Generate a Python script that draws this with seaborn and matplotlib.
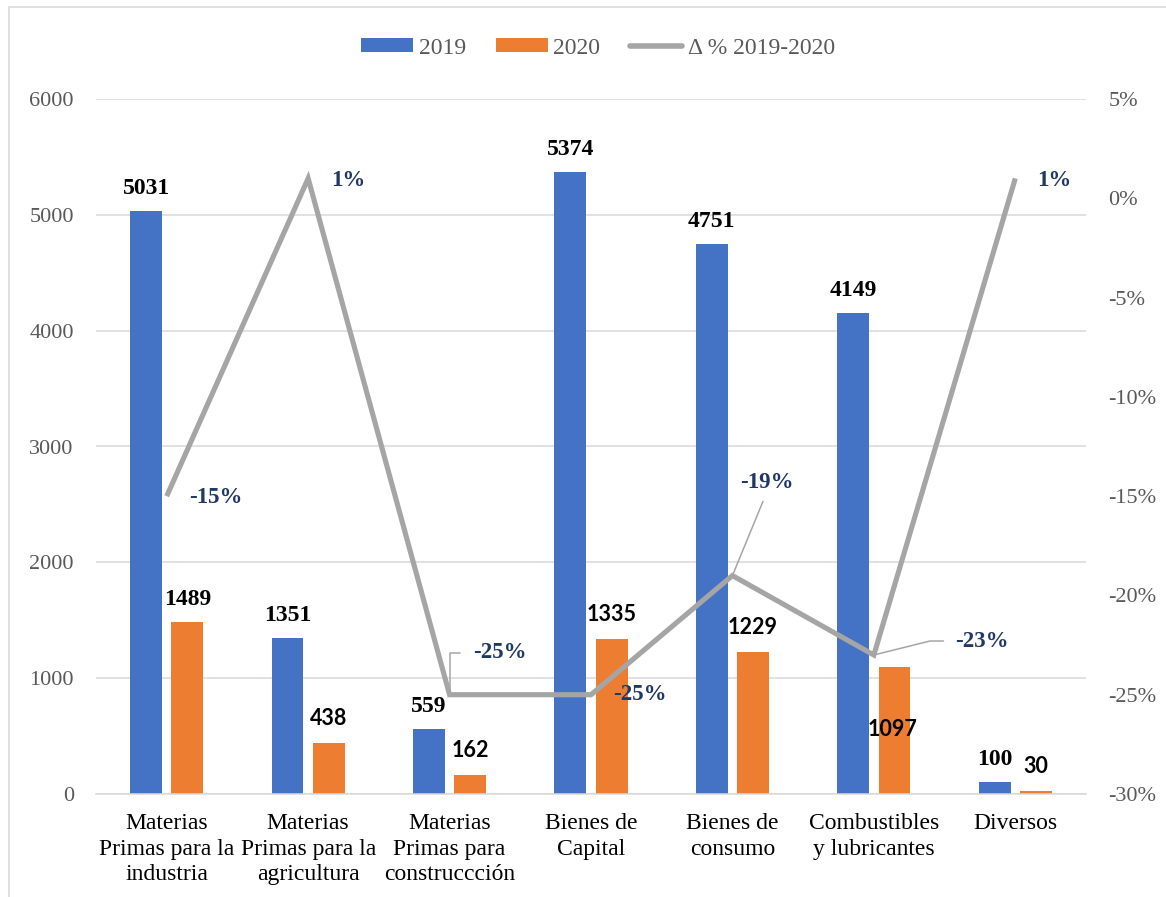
import numpy as np
import pandas as pd
import matplotlib
matplotlib.use("Agg")
import matplotlib.pyplot as plt
import seaborn as sns
from matplotlib.patches import Patch, Rectangle
from matplotlib.lines import Line2D

# ---- data -------------------------------------------------------------
categories = [
    "Materias\nPrimas para la\nindustria",
    "Materias\nPrimas para la\nagricultura",
    "Materias\nPrimas para\nconstruccción",
    "Bienes de\nCapital",
    "Bienes de\nconsumo",
    "Combustibles\ny lubricantes",
    "Diversos",
]
values_2019 = [5031, 1351, 559, 5374, 4751, 4149, 100]
values_2020 = [1489, 438, 162, 1335, 1229, 1097, 30]
delta_pct = [-15, 1, -25, -25, -19, -23, 1]

left_ticks = [0, 1000, 2000, 3000, 4000, 5000, 6000]
right_ticks = [-30, -25, -20, -15, -10, -5, 0, 5]
legend_labels = ["2019", "2020", "Δ % 2019-2020"]

# ---- style ------------------------------------------------------------
BLUE, ORANGE, GREY = "#4472C4", "#ED7D31", "#A5A5A5"
GRID = "#D9D9D9"
TICK_COLOR = "#595959"
NAVY = "#1F3864"
SERIF = ["Liberation Serif", "DejaVu Serif"]
SANS = ["Lato", "DejaVu Sans"]
PX = 0.72  # points per pixel at 100 dpi

sns.set_theme(style="white")
plt.rcParams["font.family"] = SERIF

W, H = 1166, 897
fig = plt.figure(figsize=(W / 100, H / 100), dpi=100)
ax = fig.add_axes([96 / W, 1 - 794 / H, 990 / W, 695 / H])

# ---- bars -------------------------------------------------------------
df = pd.DataFrame({
    "Categoría": categories * 2,
    "Año": [legend_labels[0]] * len(categories) + [legend_labels[1]] * len(categories),
    "Valor": values_2019 + values_2020,
})
sns.barplot(data=df, x="Categoría", y="Valor", hue="Año",
            palette=[BLUE, ORANGE], saturation=1, width=0.584, gap=0.226,
            linewidth=0, legend=False, ax=ax)

ax.set_xlim(-0.5, len(categories) - 0.5)
ax.set_ylim(left_ticks[0], left_ticks[-1])
ax.set_yticks(left_ticks)
ax.set_yticklabels([str(t) for t in left_ticks])
ax.set_xlabel("")
ax.set_ylabel("")
ax.grid(axis="y", color=GRID, lw=1.1)
ax.grid(axis="x", visible=False)
ax.set_axisbelow(True)
for s in ["top", "right", "left"]:
    ax.spines[s].set_visible(False)
ax.spines["bottom"].set_color(GRID)
ax.spines["bottom"].set_linewidth(1.1)
ax.tick_params(axis="y", length=0, pad=16, labelsize=16, labelcolor=TICK_COLOR)
ax.tick_params(axis="x", length=0, pad=13.5, labelsize=17, labelcolor="black")
for lbl in ax.get_xticklabels():
    lbl.set_linespacing(1.3)

# value labels on the bars
font_2019 = [SERIF] * 7
font_2020 = [SERIF, SANS, SANS, SANS, SANS, SANS, SANS]
size_2020 = [17, 15.5, 15.5, 15.5, 15.5, 15.5, 15.5]
custom_offset = {(1, 5): (-2, -69)}  # label drawn inside the 1097 bar

for k, (cont, vals, fonts) in enumerate(zip(ax.containers,
                                            [values_2019, values_2020],
                                            [font_2019, font_2020])):
    for i, (bar, v) in enumerate(zip(cont, vals)):
        xc = bar.get_x() + bar.get_width() / 2
        top = bar.get_height()
        if k == 0:
            dx, dy, fs = 0, 17, 17
        else:
            dx, dy, fs = 0, (17 if fonts[i] is SERIF else 18), size_2020[i]
        if (k, i) in custom_offset:
            dx, dy = custom_offset[(k, i)]
        ax.annotate(f"{v}", xy=(xc, top), xytext=(dx * PX, dy * PX),
                    textcoords="offset points", ha="center", va="baseline",
                    fontsize=fs, fontweight="bold", family=fonts[i],
                    color="black", annotation_clip=False)

# ---- percentage line --------------------------------------------------
ax2 = ax.twinx()
x_pos = np.arange(len(categories))
sns.lineplot(x=x_pos, y=delta_pct, ax=ax2, color=GREY, lw=3.7,
             solid_joinstyle="miter", solid_capstyle="butt", legend=False)
ax2.set_ylim(right_ticks[0], right_ticks[-1])
ax2.set_yticks(right_ticks)
ax2.set_yticklabels([f"{t}%" for t in right_ticks])
ax2.set_xlim(-0.5, len(categories) - 0.5)
ax2.grid(False)
for s in ax2.spines.values():
    s.set_visible(False)
ax2.tick_params(axis="y", length=0, pad=16, labelsize=16, labelcolor=TICK_COLOR)
ax2.set_ylabel("")

# label offsets in pixels (dx, dy up) and optional leader lines
pct_offsets = [(49, -1), (40, -2), (50, 42), (49, 0), (34, 93), (108, 14), (39, -2)]
leaders = {
    2: dict(connectionstyle="angle,angleA=0,angleB=90,rad=0", relpos=(0, 0.5), shrinkA=7),
    4: dict(connectionstyle="arc3,rad=0", relpos=(0.5, 0), shrinkA=4),
    5: dict(connectionstyle="angle,angleA=0,angleB=14,rad=0", relpos=(0, 0.5), shrinkA=6),
}
for i, (xp, v) in enumerate(zip(x_pos, delta_pct)):
    dx, dy = pct_offsets[i]
    kw = {}
    if i in leaders:
        lp = leaders[i]
        kw["arrowprops"] = dict(arrowstyle="-", color=GREY, lw=1.1,
                                connectionstyle=lp["connectionstyle"],
                                relpos=lp["relpos"], shrinkA=lp["shrinkA"], shrinkB=1.5)
    ax2.annotate(f"{v}%", xy=(xp, v), xytext=(dx * PX, dy * PX),
                 textcoords="offset points", ha="center", va="center",
                 fontsize=16.5, fontweight="bold", color=NAVY, **kw)

# ---- legend -----------------------------------------------------------
handles = [
    Patch(facecolor=BLUE, edgecolor="none"),
    Patch(facecolor=ORANGE, edgecolor="none"),
    Line2D([0], [0], color=GREY, lw=4, solid_capstyle="round"),
]
fig.legend(handles, legend_labels, loc="center", ncol=3, frameon=False,
           bbox_to_anchor=(598 / W, 1 - 48 / H), fontsize=17,
           labelcolor=TICK_COLOR, handlelength=2.2, handleheight=0.51,
           handletextpad=0.25, columnspacing=1.25)

# ---- outer frame ------------------------------------------------------
fig.patches.append(Rectangle((9 / W, -0.1), 1.2, (H - 7) / H + 0.1,
                             transform=fig.transFigure, fill=False,
                             ec=GRID, lw=1.2, clip_on=False))

fig.savefig("out.png", dpi=100, facecolor="white")
